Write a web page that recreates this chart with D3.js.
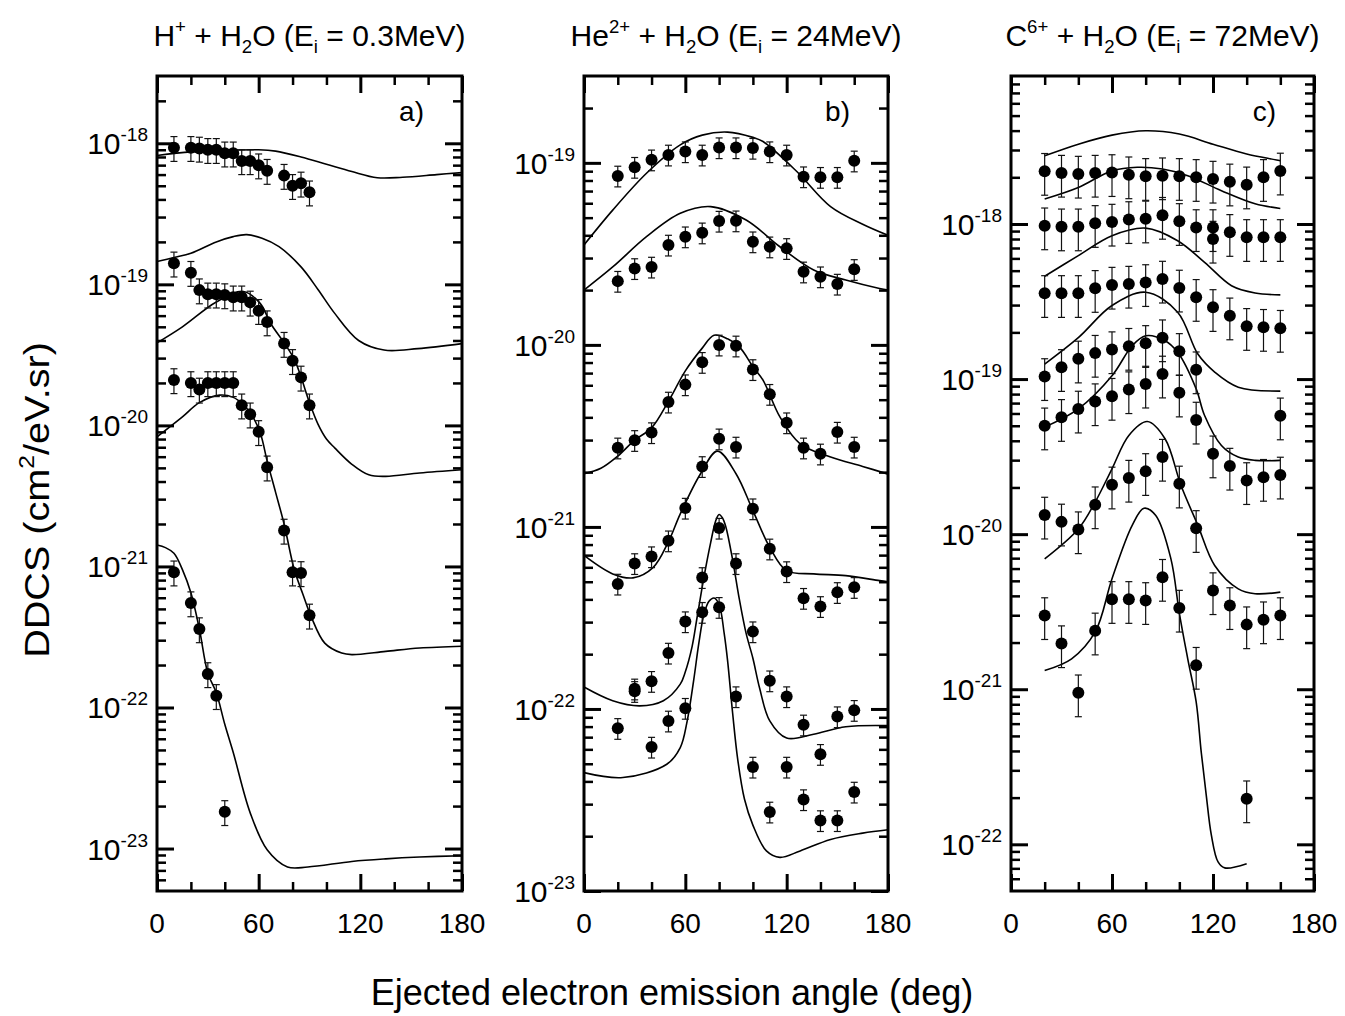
<!DOCTYPE html>
<html>
<head>
<meta charset="utf-8">
<script src="https://cdn.jsdelivr.net/npm/d3@7"></script>
<style>
  body { margin: 0; background: #fff; }
  text { font-family: "Liberation Sans", Arial, sans-serif; fill: #000; }
</style>
</head>
<body>
<svg id="chart" width="1345" height="1016"></svg>
<script>
// ---- data ----

// a) H+ + H2O, Ei = 0.3 MeV : measured points
const aAngles = [10, 20, 25, 30, 35, 40, 45, 50, 55, 60, 65, 75, 80, 85, 90];
const aDdcs1 = [9.3e-19, 9.3e-19, 9.2e-19, 9.0e-19, 9.0e-19, 8.5e-19, 8.5e-19, 7.5e-19, 7.5e-19, 7.0e-19, 6.4e-19, 5.9e-19, 5.0e-19, 5.2e-19, 4.5e-19];
const aDdcs2 = [1.41e-19, 1.21e-19, 9.1e-20, 8.5e-20, 8.5e-20, 8.4e-20, 8.1e-20, 8.1e-20, 7.45e-20, 6.5e-20, 5.4e-20, 3.8e-20, 2.87e-20, 2.19e-20, 1.39e-20];
const aDdcs3 = [2.1e-20, 2.0e-20, 1.8e-20, 2.0e-20, 2.0e-20, 2.0e-20, 2.0e-20, 1.39e-20, 1.2e-20, 9.0e-21, 5.05e-21, 1.8e-21, 9.1e-22, 9.0e-22, 4.5e-22];
const aAngles4 = [10, 20, 25, 30, 35, 40];
const aDdcs4 = [9.1e-22, 5.5e-22, 3.6e-22, 1.73e-22, 1.21e-22, 1.82e-23];

// a) theory curves
const aCurveAng1 = [0, 20, 40, 60, 70, 85, 100, 115, 130, 145, 165, 180];
const aCurve1 = [8.2e-19, 8.7e-19, 8.9e-19, 9.0e-19, 8.8e-19, 8.0e-19, 7.1e-19, 6.3e-19, 5.7e-19, 5.75e-19, 6.0e-19, 6.2e-19];
const aCurveAng2 = [0, 10, 20, 35, 45, 53, 62, 72, 85, 95, 105, 119, 134, 154, 180];
const aCurve2 = [1.45e-19, 1.55e-19, 1.66e-19, 2.0e-19, 2.18e-19, 2.25e-19, 2.12e-19, 1.85e-19, 1.33e-19, 9.2e-20, 6.2e-20, 4.0e-20, 3.42e-20, 3.5e-20, 3.8e-20];
const aCurveAng3 = [0, 15, 35, 51, 61, 67, 75, 81, 85, 90, 95, 100, 105, 115, 125, 135, 155, 180];
const aCurve3 = [3.85e-20, 5.0e-20, 7.5e-20, 8.9e-20, 7.3e-20, 5.3e-20, 3.85e-20, 2.95e-20, 2.2e-20, 1.45e-20, 1.02e-20, 8.0e-21, 6.9e-21, 5.3e-21, 4.46e-21, 4.35e-21, 4.6e-21, 4.85e-21];
const aCurveAng4 = [0, 15, 25, 37, 45, 51, 56, 61, 65, 70, 75, 81, 86, 91, 99, 109, 115, 135, 155, 180];
const aCurve4 = [8.3e-21, 1.15e-20, 1.45e-20, 1.64e-20, 1.58e-20, 1.4e-20, 1.18e-20, 8.8e-21, 5.6e-21, 3.35e-21, 2.0e-21, 9.5e-22, 6.4e-22, 4.4e-22, 2.86e-22, 2.43e-22, 2.37e-22, 2.5e-22, 2.64e-22, 2.72e-22];
const aCurveAng5 = [0, 5, 10, 15, 20, 25, 30, 35, 40, 45, 55, 65, 77, 89, 115, 135, 155, 180];
const aCurve5 = [1.42e-21, 1.36e-21, 1.24e-21, 9.5e-22, 6.5e-22, 3.6e-22, 1.75e-22, 1.27e-22, 7.6e-23, 4.8e-23, 1.79e-23, 9.8e-24, 7.4e-24, 7.4e-24, 8.1e-24, 8.45e-24, 8.7e-24, 8.9e-24];

// b) He2+ + H2O, Ei = 24 MeV : measured points
const bAngles = [20, 30, 40, 50, 60, 70, 80, 90, 100, 110, 120, 130, 140, 150, 160];
const bDdcs1 = [8.48e-20, 9.47e-20, 1.04e-19, 1.106e-19, 1.153e-19, 1.106e-19, 1.213e-19, 1.213e-19, 1.205e-19, 1.153e-19, 1.106e-19, 8.4e-20, 8.34e-20, 8.34e-20, 1.026e-19];
const bDdcs2 = [2.24e-20, 2.63e-20, 2.68e-20, 3.54e-20, 3.93e-20, 4.13e-20, 4.79e-20, 4.81e-20, 3.69e-20, 3.46e-20, 3.39e-20, 2.52e-20, 2.37e-20, 2.16e-20, 2.6e-20];
const bDdcs3 = [2.72e-21, 2.99e-21, 3.3e-21, 4.86e-21, 6.05e-21, 8.03e-21, 1.0e-20, 9.88e-21, 7.33e-21, 5.36e-21, 3.74e-21, 2.72e-21, 2.52e-21, 3.32e-21, 2.75e-21];
const bDdcs4 = [4.86e-22, 6.3e-22, 6.87e-22, 8.4e-22, 1.27e-21, 2.15e-21, 3.05e-21, 2.75e-21, 1.26e-21, 7.58e-22, 5.69e-22, 4.06e-22, 3.66e-22, 4.37e-22, 4.66e-22];
const bAngles5 = [30, 40, 50, 60, 70, 80, 90, 100, 110, 120, 130, 140, 150, 160];
const bDdcs5 = [1.29e-22, 1.42e-22, 2.03e-22, 3.02e-22, 5.28e-22, 9.86e-22, 6.3e-22, 2.66e-22, 1.43e-22, 1.17e-22, 8.18e-23, 5.64e-23, 9.08e-23, 9.84e-23];
const bDdcs6 = [7.83e-23, 1.25e-22, 6.18e-23, 8.6e-23, 1.01e-22, 3.4e-22, 3.62e-22, 1.17e-22, 4.8e-23, 2.72e-23, 4.8e-23, 3.18e-23, 2.44e-23, 2.44e-23, 3.5e-23];

// b) theory curves
const bCurveAng1 = [0, 17, 37, 57, 70, 85, 100, 106, 126, 146, 165, 180];
const bCurve1 = [3.54e-20, 5.5e-20, 8.77e-20, 1.256e-19, 1.42e-19, 1.475e-19, 1.38e-19, 1.31e-19, 8.96e-20, 5.75e-20, 4.6e-20, 4.0e-20];
const bCurveAng2 = [0, 17, 37, 57, 75, 96, 116, 136, 155, 175, 180];
const bCurve2 = [2.0e-20, 2.68e-20, 3.93e-20, 5.28e-20, 5.75e-20, 4.85e-20, 3.46e-20, 2.58e-20, 2.27e-20, 2.04e-20, 2.0e-20];
const bCurveAng3 = [0, 10, 20, 30, 40, 50, 60, 70, 77, 85, 92, 100, 106, 116, 128, 146, 165, 180];
const bCurve3 = [1.96e-21, 2.1e-21, 2.45e-21, 3.0e-21, 3.5e-21, 4.9e-21, 7.2e-21, 9.6e-21, 1.13e-20, 1.08e-20, 9.75e-21, 7.6e-21, 6.4e-21, 4.02e-21, 2.86e-21, 2.42e-21, 2.15e-21, 1.95e-21];
const bCurveAng4 = [0, 17, 29, 41, 50, 57, 69, 79, 90, 100, 110, 120, 136, 155, 175, 180];
const bCurve4 = [6.97e-22, 5.52e-22, 5.25e-22, 6.0e-22, 8.3e-22, 1.18e-21, 1.96e-21, 2.61e-21, 1.96e-21, 1.23e-21, 7.73e-22, 5.75e-22, 5.52e-22, 5.4e-22, 5.07e-22, 5.0e-22];
const bCurveAng5 = [0, 17, 33, 47, 57, 60, 64, 67, 71, 75, 78, 80, 82, 84, 88, 92, 96, 100, 104, 110, 120, 136, 155, 180];
const bCurve5 = [1.32e-22, 1.11e-22, 1.04e-22, 1.11e-22, 1.37e-22, 1.6e-22, 2.2e-22, 3.2e-22, 5.28e-22, 8.2e-22, 1.08e-21, 1.17e-21, 1.12e-21, 1.0e-21, 6.6e-22, 4.0e-22, 2.6e-22, 1.9e-22, 1.3e-22, 8.6e-23, 6.92e-23, 7.27e-23, 7.98e-23, 8.1e-23];
const bCurveAng6 = [0, 23, 49, 57, 61, 65, 68, 71, 74, 77, 80, 83, 85, 88, 91, 95, 100, 108, 116, 128, 146, 165, 180];
const bCurve6 = [4.47e-23, 4.2e-23, 4.97e-23, 6.14e-23, 8.5e-23, 1.45e-22, 2.3e-22, 3.3e-22, 3.9e-22, 4.07e-22, 3.75e-22, 2.6e-22, 1.85e-22, 9.5e-23, 5.3e-23, 3.2e-23, 2.3e-23, 1.66e-23, 1.53e-23, 1.66e-23, 1.92e-23, 2.08e-23, 2.17e-23];

// c) C6+ + H2O, Ei = 72 MeV : measured points
const cAngles = [20, 30, 40, 50, 60, 70, 80, 90, 100, 110, 120, 130, 140, 150, 160];
const cDdcs1 = [2.19e-18, 2.13e-18, 2.1e-18, 2.13e-18, 2.15e-18, 2.08e-18, 2.03e-18, 2.05e-18, 2.03e-18, 2.0e-18, 1.95e-18, 1.87e-18, 1.79e-18, 2.0e-18, 2.2e-18];
const cAngles2 = [20, 30, 40, 50, 60, 70, 80, 90, 100, 110, 120, 120, 130, 140, 150, 160];
const cDdcs2 = [9.75e-19, 9.6e-19, 9.6e-19, 1.01e-18, 1.03e-18, 1.07e-18, 1.08e-18, 1.14e-18, 1.04e-18, 9.5e-19, 9.5e-19, 8.0e-19, 8.84e-19, 8.2e-19, 8.2e-19, 8.2e-19];
const cDdcs3 = [3.57e-19, 3.57e-19, 3.57e-19, 3.85e-19, 4.04e-19, 4.1e-19, 4.2e-19, 4.42e-19, 3.87e-19, 3.37e-19, 2.9e-19, 2.56e-19, 2.19e-19, 2.16e-19, 2.13e-19];
const cAngles4 = [20, 30, 40, 50, 60, 70, 80, 90, 100, 110, 160];
const cDdcs4 = [1.04e-19, 1.19e-19, 1.35e-19, 1.47e-19, 1.55e-19, 1.63e-19, 1.7e-19, 1.85e-19, 1.51e-19, 1.15e-19, 5.8e-20];
const cDdcs5 = [5.0e-20, 5.67e-20, 6.42e-20, 7.16e-20, 7.76e-20, 8.56e-20, 9.3e-20, 1.08e-19, 8.15e-20, 5.45e-20, 3.3e-20, 2.75e-20, 2.22e-20, 2.33e-20, 2.41e-20];
const cDdcs6 = [1.33e-20, 1.2e-20, 1.07e-20, 1.55e-20, 2.08e-20, 2.3e-20, 2.54e-20, 3.14e-20, 2.11e-20, 1.09e-20, 4.33e-21, 3.47e-21, 2.61e-21, 2.81e-21, 2.99e-21];
const cAngles7 = [20, 30, 40, 50, 60, 70, 80, 90, 100, 110, 140];
const cDdcs7 = [2.99e-21, 1.97e-21, 9.5e-22, 2.38e-21, 3.8e-21, 3.8e-21, 3.74e-21, 5.28e-21, 3.34e-21, 1.43e-21, 1.97e-22];

// c) theory curves
const cCurveAng1 = [20, 40, 60, 80, 100, 120, 140, 160];
const cCurve1 = [2.75e-18, 3.27e-18, 3.74e-18, 3.99e-18, 3.8e-18, 3.27e-18, 2.83e-18, 2.56e-18];
const cCurveAng2 = [20, 40, 60, 75, 90, 105, 125, 145, 160];
const cCurve2 = [1.45e-18, 1.72e-18, 2.2e-18, 2.32e-18, 2.26e-18, 2.05e-18, 1.64e-18, 1.35e-18, 1.26e-18];
const cCurveAng3 = [20, 40, 60, 80, 99, 115, 131, 145, 160];
const cCurve3 = [4.6e-19, 6.25e-19, 8.4e-19, 9.4e-19, 7.8e-19, 5.66e-19, 4.0e-19, 3.59e-19, 3.49e-19];
const cCurveAng4 = [20, 40, 60, 80, 99, 111, 121, 135, 160];
const cCurve4 = [1.25e-19, 1.85e-19, 2.98e-19, 3.63e-19, 2.7e-19, 1.45e-19, 1.11e-19, 8.87e-20, 8.36e-20];
const cCurveAng5 = [20, 40, 60, 72, 80, 91, 99, 110, 115, 125, 135, 145, 160];
const cCurve5 = [4.9e-20, 6.42e-20, 1.05e-19, 1.64e-19, 1.9e-19, 1.78e-19, 1.49e-19, 8.65e-20, 5.82e-20, 3.73e-20, 3.14e-20, 2.99e-20, 2.99e-20];
const cCurveAng6 = [20, 40, 50, 60, 70, 81, 91.5, 101, 111, 121, 135, 145, 160];
const cCurve6 = [6.93e-21, 1.08e-20, 1.61e-20, 2.64e-20, 4.33e-20, 5.32e-20, 4.12e-20, 2.06e-20, 1.14e-20, 6.28e-21, 4.44e-21, 4.13e-21, 4.23e-21];
const cCurveAng7 = [20, 36, 50, 60, 72, 79, 86, 95, 100, 105, 110, 113, 116, 119, 123, 127, 140];
const cCurve7 = [1.32e-21, 1.57e-21, 2.34e-21, 5.16e-21, 1.14e-20, 1.47e-20, 1.32e-20, 6.93e-21, 3.1e-21, 1.57e-21, 8.28e-22, 3.94e-22, 2.07e-22, 1.15e-22, 7.7e-23, 7.05e-23, 7.5e-23];

// relative error of the measured points in each panel
const errA = 0.2, errB = 0.13, errC = 0.3;

// axes
const xTicks = [0, 60, 120, 180];
const xMinorTicks = [20, 40, 80, 100, 140, 160];
const yDomainA = [5e-24, 3e-18], yDomainB = [1e-23, 3e-19], yDomainC = [5e-23, 9e-18];
const yExpA = [-18, -19, -20, -21, -22, -23];
const yExpB = [-19, -20, -21, -22, -23];
const yExpC = [-18, -19, -20, -21, -22];

// titles (text, kind) and panel letters
const titleA = [["H"], ["+", "sup"], [" + H"], ["2", "sub"], ["O (E"], ["i", "sub"], [" = 0.3MeV)"]];
const titleB = [["He"], ["2+", "sup"], [" + H"], ["2", "sub"], ["O (E"], ["i", "sub"], [" = 24MeV)"]];
const titleC = [["C"], ["6+", "sup"], [" + H"], ["2", "sub"], ["O (E"], ["i", "sub"], [" = 72MeV)"]];
const yLabel = [["DDCS (cm"], ["2", "sup"], ["/eV.sr)"]];
const xLabel = "Ejected electron emission angle (deg)";

// ---- layout ----
const plotTop = 76, plotBottom = 891;
const majorLen = 17, minorLen = 9;

const svg = d3.select("#chart");

function zip(xs, ys) { return xs.map((x, i) => [x, ys[i]]); }

function richText(sel, parts, size) {
  let shift = 0;
  parts.forEach(([s, kind]) => {
    const target = kind === "sup" ? -0.42 * size : kind === "sub" ? 0.22 * size : 0;
    sel.append("tspan")
        .attr("dy", target - shift)
        .style("font-size", (kind ? 0.62 * size : size) + "px")
        .text(s);
    shift = target;
  });
}

const panels = [
  {left: 157, right: 462, yDomain: yDomainA, yExp: yExpA, title: titleA, letter: "a)", err: errA,
   dots: [zip(aAngles, aDdcs1), zip(aAngles, aDdcs2), zip(aAngles, aDdcs3), zip(aAngles4, aDdcs4)],
   curves: [zip(aCurveAng1, aCurve1), zip(aCurveAng2, aCurve2), zip(aCurveAng3, aCurve3),
            zip(aCurveAng4, aCurve4), zip(aCurveAng5, aCurve5)]},
  {left: 584, right: 888, yDomain: yDomainB, yExp: yExpB, title: titleB, letter: "b)", err: errB,
   dots: [zip(bAngles, bDdcs1), zip(bAngles, bDdcs2), zip(bAngles, bDdcs3), zip(bAngles, bDdcs4),
          zip(bAngles5, bDdcs5), zip(bAngles, bDdcs6)],
   curves: [zip(bCurveAng1, bCurve1), zip(bCurveAng2, bCurve2), zip(bCurveAng3, bCurve3),
            zip(bCurveAng4, bCurve4), zip(bCurveAng5, bCurve5), zip(bCurveAng6, bCurve6)]},
  {left: 1011, right: 1314, yDomain: yDomainC, yExp: yExpC, title: titleC, letter: "c)", err: errC,
   dots: [zip(cAngles, cDdcs1), zip(cAngles2, cDdcs2), zip(cAngles, cDdcs3), zip(cAngles4, cDdcs4),
          zip(cAngles, cDdcs5), zip(cAngles, cDdcs6), zip(cAngles7, cDdcs7)],
   curves: [zip(cCurveAng1, cCurve1), zip(cCurveAng2, cCurve2), zip(cCurveAng3, cCurve3),
            zip(cCurveAng4, cCurve4), zip(cCurveAng5, cCurve5), zip(cCurveAng6, cCurve6),
            zip(cCurveAng7, cCurve7)]},
];

function logMinors(domain) {
  const [lo, hi] = domain, out = [];
  for (let e = Math.floor(Math.log10(lo)); e <= Math.ceil(Math.log10(hi)); e++) {
    for (let k = 2; k <= 9; k++) {
      const v = k * Math.pow(10, e);
      if (v > lo * 1.001 && v < hi * 0.999) out.push(v);
    }
  }
  return out;
}

function styleAxis(sel, width) {
  sel.select(".domain").remove();
  sel.selectAll(".tick line").attr("stroke", "#000").attr("stroke-width", width);
}

panels.forEach((p) => {
  const w = p.right - p.left, h = plotBottom - plotTop;
  const g = svg.append("g").attr("transform", `translate(${p.left},${plotTop})`);
  const x = d3.scaleLinear().domain([0, 180]).range([0, w]);
  const y = d3.scaleLog().domain(p.yDomain).range([h, 0]);
  const yMajors = p.yExp.map((e) => Math.pow(10, e));
  const yMinors = logMinors(p.yDomain);

  // ticks on all four sides, pointing inward
  const axes = [
    [d3.axisBottom(x).tickValues(xTicks), `translate(0,${h})`, majorLen, 3],
    [d3.axisBottom(x).tickValues(xMinorTicks), `translate(0,${h})`, minorLen, 2.5],
    [d3.axisTop(x).tickValues(xTicks), null, majorLen, 3],
    [d3.axisTop(x).tickValues(xMinorTicks), null, minorLen, 2.5],
    [d3.axisLeft(y).tickValues(yMajors), null, majorLen, 3],
    [d3.axisLeft(y).tickValues(yMinors), null, minorLen, 2.5],
    [d3.axisRight(y).tickValues(yMajors), `translate(${w},0)`, majorLen, 3],
    [d3.axisRight(y).tickValues(yMinors), `translate(${w},0)`, minorLen, 2.5],
  ];
  axes.forEach(([axis, tr, len, sw]) => {
    const a = g.append("g");
    if (tr) a.attr("transform", tr);
    a.call(axis.tickSize(-len).tickSizeOuter(0).tickFormat(""));
    styleAxis(a, sw);
  });

  g.append("rect").attr("width", w).attr("height", h)
      .attr("fill", "none").attr("stroke", "#000").attr("stroke-width", 3);

  // tick labels
  g.selectAll(".xlab").data(xTicks).join("text")
      .attr("x", (d) => x(d)).attr("y", h + 42)
      .attr("text-anchor", "middle").style("font-size", "28px")
      .text((d) => d);
  p.yExp.forEach((e) => {
    const t = g.append("text").attr("x", -9).attr("y", y(Math.pow(10, e)) + 11)
        .attr("text-anchor", "end").style("font-size", "30px");
    t.append("tspan").text("10");
    t.append("tspan").attr("dy", -13).style("font-size", "19px").text("-" + Math.abs(e));
  });

  // theory curves
  const line = d3.line().x((d) => x(d[0])).y((d) => y(d[1])).curve(d3.curveCatmullRom.alpha(0.5));
  g.selectAll(".curve").data(p.curves).join("path")
      .attr("d", line).attr("fill", "none").attr("stroke", "#000").attr("stroke-width", 1.6);

  // measured points with error bars
  const pts = p.dots.flat();
  const eb = g.append("g").attr("stroke", "#111").attr("stroke-width", 1.2);
  pts.forEach(([a, v]) => {
    const cx = x(a), y0 = y(v * (1 - p.err)), y1 = y(v * (1 + p.err));
    eb.append("line").attr("x1", cx).attr("x2", cx).attr("y1", y0).attr("y2", y1);
    eb.append("line").attr("x1", cx - 3.5).attr("x2", cx + 3.5).attr("y1", y0).attr("y2", y0);
    eb.append("line").attr("x1", cx - 3.5).attr("x2", cx + 3.5).attr("y1", y1).attr("y2", y1);
  });
  g.append("g").selectAll("circle").data(pts).join("circle")
      .attr("cx", (d) => x(d[0])).attr("cy", (d) => y(d[1])).attr("r", 6).attr("fill", "#000");

  // panel letter and title
  g.append("text").attr("x", w - 38).attr("y", 45).attr("text-anchor", "end")
      .style("font-size", "28px").text(p.letter);
  const title = svg.append("text").attr("x", p.left + w / 2).attr("y", 46)
      .attr("text-anchor", "middle").style("font-size", "30px");
  richText(title, p.title, 30);
});

// axis titles
const yl = svg.append("text").attr("transform", "translate(49,500) rotate(-90) scale(1.1,1)")
    .attr("text-anchor", "middle").style("font-size", "36px");
richText(yl, yLabel, 36);
svg.append("text").attr("x", 672).attr("y", 1005).attr("text-anchor", "middle")
    .style("font-size", "36px").text(xLabel);
</script>
</body>
</html>
